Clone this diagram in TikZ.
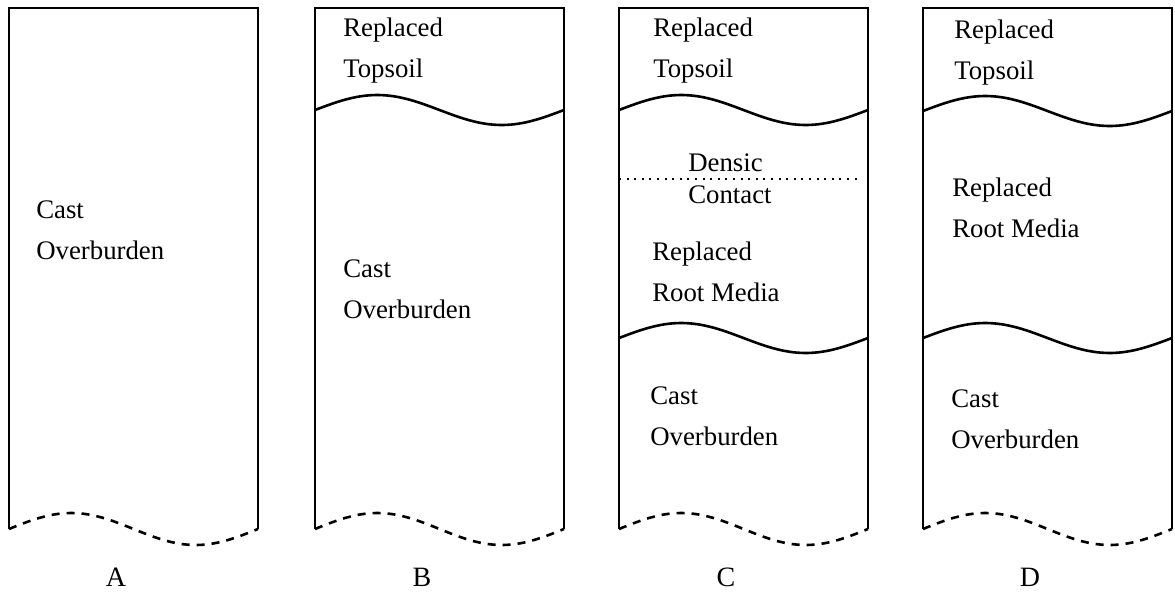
\documentclass[tikz,border=0pt]{standalone}
\usepackage{fontspec}
\setmainfont{Liberation Serif}

\begin{document}
\begin{tikzpicture}
  [x=0.5pt,y=-0.5pt,line width=1.3pt,
   every node/.style={inner sep=0pt,font=\fontsize{13.4}{20.5}\selectfont},
   layer/.style={anchor=base west,align=left},
   colname/.style={anchor=base,font=\fontsize{14}{16}\selectfont},
   cut/.style={dash pattern=on 4pt off 3.5pt},
   densic/.style={line width=1.1pt,dash pattern=on 1pt off 2.8pt}]
  \useasboundingbox (0,0) rectangle (1175,596);
  % profiles
  \foreach \l/\n in {9/A,315/B,619/C,923/D} {
    \draw (\l,529) -- (\l,8) -- (\l+249,8) -- (\l+249,529);
    \draw[cut] (\l,529) sin (\l+62.25,513) cos (\l+124.5,529)
      sin (\l+186.75,545) cos (\l+249,529);
    \node[colname] (name\n) at (\l+107,586) {\n};
  }
  % layer boundaries
  \foreach \l/\c in {315/110,619/110,923/111,619/338,923/338}
    \draw (\l,\c) sin (\l+62.25,\c-15) cos (\l+124.5,\c)
      sin (\l+186.75,\c+15) cos (\l+249,\c);
  \draw[densic] (619,179) -- (860,179);
  % A (base = last line)
  \node[layer] (castA) at (35,259) {Cast\\Overburden};
  % B
  \node[layer] (topB) at (342,77) {Replaced\\Topsoil};
  \node[layer] (castB) at (342,318) {Cast\\Overburden};
  % C
  \node[layer] (topC) at (652,77) {Replaced\\Topsoil};
  \node[layer] (densC) at (687,171) {Densic};
  \node[layer] (contC) at (687,203) {Contact};
  \node[layer] (rootC) at (651,301) {Replaced\\Root Media};
  \node[layer] (castC) at (649,445) {Cast\\Overburden};
  % D
  \node[layer] (topD) at (953,79) {Replaced\\Topsoil};
  \node[layer] (rootD) at (951,237) {Replaced\\Root Media};
  \node[layer] (castD) at (950,448) {Cast\\Overburden};
\end{tikzpicture}
\end{document}
